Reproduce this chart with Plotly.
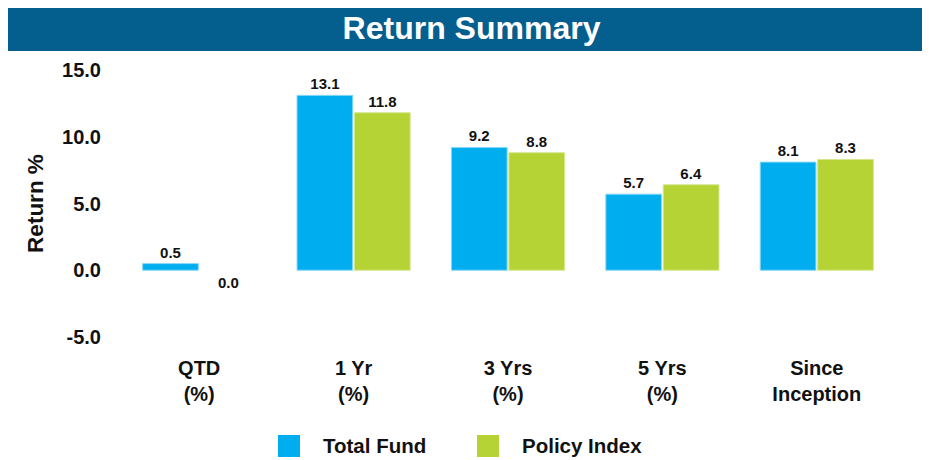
import plotly.graph_objects as go

categories = ["QTD<br>(%)", "1 Yr<br>(%)", "3 Yrs<br>(%)", "5 Yrs<br>(%)", "Since<br>Inception"]
total_fund = [0.5, 13.1, 9.2, 5.7, 8.1]
policy_index = [0.0, 11.8, 8.8, 6.4, 8.3]
series_names = ["Total Fund", "Policy Index"]
y_ticks = [-5, 0, 5, 10, 15]

BLUE = "#00AEEF"
GREEN = "#B5D334"
BANNER = "#045E8E"
FONT = "Arial, Liberation Sans, sans-serif"

OFF = 8  # page body margin
W, H = 930 - OFF, 460 - OFF
L, T = 122 - OFF, 70 - OFF
R = W - (894 - OFF)
B = H - (337 - OFF)
PW, PH = W - L - R, H - T - B

def px(x):
    return (x - OFF - L) / PW

def py(y):
    return (H - B - (y - OFF)) / PH

fig = go.Figure()

def positions(vals):
    return ["outside" if v != 0 else "none" for v in vals]

def widths(vals):
    return [1 if v != 0 else 0 for v in vals]

fig.add_trace(go.Bar(
    x=categories, y=total_fund, name=series_names[0],
    marker=dict(color=BLUE, line=dict(color="#8AD8F6", width=widths(total_fund))),
    texttemplate="<b>%{y:.1f}</b>", textposition=positions(total_fund),
    textfont=dict(family=FONT, size=15, color="#111111"),
    cliponaxis=False, showlegend=False,
))
fig.add_trace(go.Bar(
    x=categories, y=policy_index, name=series_names[1],
    marker=dict(color=GREEN, line=dict(color="#D6E68F", width=widths(policy_index))),
    texttemplate="<b>%{y:.1f}</b>", textposition=positions(policy_index),
    textfont=dict(family=FONT, size=15, color="#111111"),
    cliponaxis=False, showlegend=False,
))

# label for zero-valued bar shown below the baseline
for c, v in zip(categories, policy_index):
    if v == 0:
        fig.add_annotation(x=c, y=v, xref="x", yref="y", text=f"<b>{v:.1f}</b>",
                           showarrow=False, xshift=29, yshift=-12,
                           font=dict(family=FONT, size=15, color="#111111"))

# title banner
fig.add_shape(type="rect", xref="paper", yref="paper",
              x0=px(OFF), x1=px(928), y0=py(51), y1=py(4),
              fillcolor=BANNER, line=dict(width=0), layer="below")

# custom legend
legend_items = [(series_names[0], BLUE, 278), (series_names[1], GREEN, 477)]
for name, col, x0 in legend_items:
    fig.add_shape(type="rect", xref="paper", yref="paper",
                  x0=px(x0), x1=px(x0 + 22), y0=py(457), y1=py(435),
                  fillcolor=col, line=dict(width=0))
    fig.add_annotation(x=px(x0 + 43), y=py(446), xref="paper", yref="paper",
                       text=f"<b>{name}</b>", showarrow=False,
                       xanchor="left", yanchor="middle",
                       font=dict(family=FONT, size=20.5, color="#111111"))

fig.update_layout(
    width=W, height=H,
    margin=dict(l=L, r=R, t=T, b=B),
    paper_bgcolor="white", plot_bgcolor="white",
    barmode="group", bargap=0.256, bargroupgap=0.03,
    title=dict(text="<b>Return Summary</b>", x=(471.5 - OFF) / W, xanchor="center",
               y=1 - (28 - OFF) / H, yanchor="middle",
               font=dict(family=FONT, size=32, color="white")),
    font=dict(family=FONT, color="#111111"),
    xaxis=dict(
        showgrid=False, zeroline=False, showline=False, ticks="",
        tickfont=dict(family=FONT, size=20, color="#111111"),
        ticklabelstandoff=17,
        tickvals=categories,
        ticktext=[f"<b>{c}</b>" for c in categories],
    ),
    yaxis=dict(
        range=[-5, 15], showgrid=False, zeroline=False, showline=False, ticks="",
        tickvals=y_ticks, ticktext=[f"<b>{v:.1f}</b>" for v in y_ticks],
        tickfont=dict(family=FONT, size=20, color="#111111"),
        ticklabelstandoff=20,
        title=dict(text="<b>Return %</b>", standoff=12,
                   font=dict(family=FONT, size=22.5, color="#111111")),
    ),
)

fig.write_html("out.html")
